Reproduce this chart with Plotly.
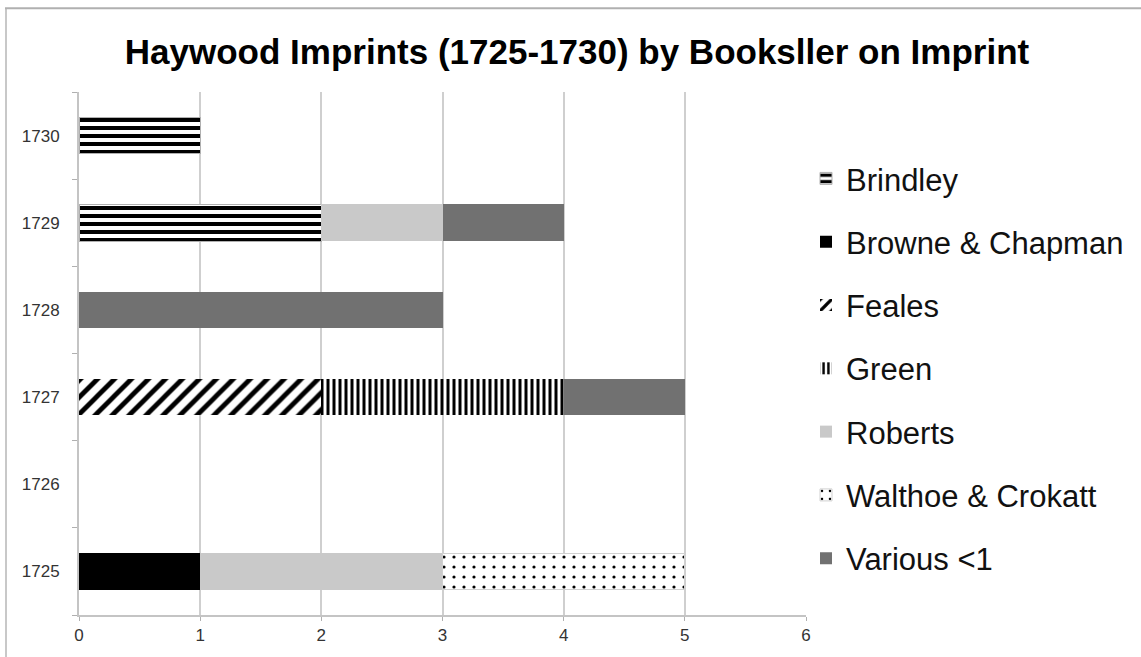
import plotly.graph_objects as go

years = ["1725", "1726", "1727", "1728", "1729", "1730"]
series_names = ["Brindley", "Browne & Chapman", "Feales", "Green", "Roberts", "Walthoe & Crokatt", "Various <1"]
brindley = [None, None, None, None, 2, 1]
browne_chapman = [1, None, None, None, None, None]
feales = [None, None, 2, None, None, None]
green = [None, None, 2, None, None, None]
roberts = [2, None, None, None, 1, None]
walthoe_crokatt = [2, None, None, None, None, None]
various = [None, None, 1, 3, 1, None]
x_ticks = [0, 1, 2, 3, 4, 5, 6]

values = [brindley, browne_chapman, feales, green, roberts, walthoe_crokatt, various]
styles = [
    dict(color="white", pattern=dict(shape="-", fgcolor="black", bgcolor="white", fgopacity=1, size=8, solidity=0.5),
         line=dict(color="#b0b0b0", width=1)),
    dict(color="black", line=dict(width=0)),
    dict(color="white", pattern=dict(shape="/", fgcolor="black", bgcolor="white", fgopacity=1, size=12, solidity=0.4),
         line=dict(width=0)),
    dict(color="white", pattern=dict(shape="|", fgcolor="black", bgcolor="white", fgopacity=1, size=6, solidity=0.5),
         line=dict(width=0)),
    dict(color="#c9c9c9", line=dict(width=0)),
    dict(color="white", pattern=dict(shape=".", fgcolor="black", bgcolor="white", fgopacity=1, size=10, solidity=0.08),
         line=dict(color="#d0d0d0", width=1)),
    dict(color="#717171", line=dict(width=0)),
]

fig = go.Figure()
for name, vals, st in zip(series_names, values, styles):
    fig.add_trace(go.Bar(
        y=years, x=vals, name=name, orientation="h",
        marker=st, legendgroup=name,
    ))

W, H = 1141, 657
L, R, T, B = 79, 806, 92, 617
pw, ph = R - L, B - T

def px(x):
    return (x - L) / pw

def py(y):
    return (B - y) / ph

fig.update_layout(
    width=W, height=H,
    margin=dict(l=L, r=W - R, t=T, b=H - B, pad=0),
    barmode="stack",
    bargap=0.58,
    plot_bgcolor="white",
    paper_bgcolor="white",
    font=dict(family="Liberation Sans, Arial, sans-serif", color="#222222"),
    title=dict(
        text="<b>Haywood Imprints (1725-1730) by Booksller on Imprint</b>",
        font=dict(size=35, color="black", family="Liberation Sans, Arial, sans-serif"),
        x=577 / W, xanchor="center", xref="container",
        y=1 - 52 / H, yanchor="middle", yref="container",
    ),
    legend=dict(
        x=px(806), xanchor="left", y=py(152), yanchor="top",
        font=dict(size=31, color="#111111"),
        traceorder="grouped", tracegroupgap=20,
        itemwidth=30, bgcolor="rgba(0,0,0,0)",
    ),
    showlegend=True,
    shapes=[
        dict(type="line", xref="paper", yref="paper", x0=px(6), x1=px(6), y0=py(660), y1=py(8),
             line=dict(color="#c8c8c8", width=2)),
        dict(type="line", xref="paper", yref="paper", x0=px(5), x1=px(1145), y0=py(8), y1=py(8),
             line=dict(color="#b0b0b0", width=2)),
    ],
)

fig.update_xaxes(
    range=[0, 6], tickvals=x_ticks, ticktext=[str(v) for v in x_ticks],
    showgrid=True, gridcolor="#cfcfcf", gridwidth=2,
    zeroline=False, showline=True, linecolor="#c4c4c4", linewidth=2,
    ticks="outside", ticklen=4, tickcolor="#b0b0b0", tickwidth=1,
    tickfont=dict(size=17, color="#333333"),
)
fig.update_yaxes(
    type="category", categoryorder="array", categoryarray=years,
    showgrid=False, showline=True, linecolor="#c4c4c4", linewidth=2,
    ticks="outside", ticklen=5, tickcolor="#b0b0b0", tickson="boundaries",
    tickfont=dict(size=17, color="#333333"), ticklabelstandoff=14,
)

fig.write_html("out.html")
